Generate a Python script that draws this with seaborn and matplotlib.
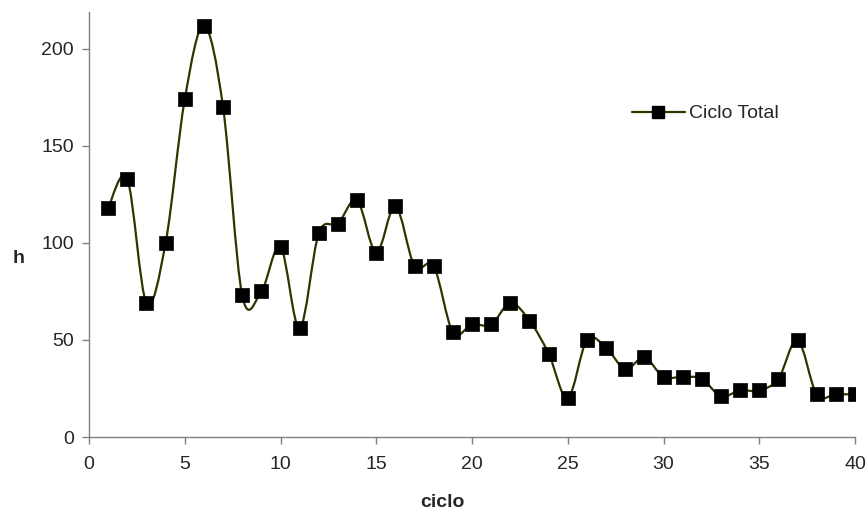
import numpy as np
import pandas as pd
import matplotlib
matplotlib.use("Agg")
import matplotlib.pyplot as plt
from matplotlib.path import Path
from matplotlib.patches import PathPatch
from matplotlib.lines import Line2D
import seaborn as sns

ciclo = list(range(1, 41))
h = [118, 133, 69, 100, 174, 212, 170, 73, 75, 98,
     56, 105, 110, 122, 95, 119, 88, 88, 54, 58,
     58, 69, 60, 43, 20, 50, 46, 35, 41, 31,
     31, 30, 21, 24, 24, 30, 50, 22, 22, 22]
series_name = "Ciclo Total"
x_ticks = [0, 5, 10, 15, 20, 25, 30, 35, 40]
y_ticks = [0, 50, 100, 150, 200]

sns.set_style("white")
plt.rcParams['font.family'] = ['Liberation Sans', 'DejaVu Sans']

df = pd.DataFrame({"ciclo": ciclo, "h": h})

fig = plt.figure(figsize=(8.68, 5.15), dpi=100)
ax = fig.add_axes([89/868, 78/515, 766/868, 425/515])

line_color = "#333300"

# smoothed curve (Catmull-Rom style Bezier, like spreadsheet smoothing)
xs = np.array(ciclo, dtype=float)
ys = np.array(h, dtype=float)
verts = [(xs[0], ys[0])]
codes = [Path.MOVETO]
n = len(xs)
for i in range(n - 1):
    p0 = (xs[i - 1], ys[i - 1]) if i > 0 else (xs[i], ys[i])
    p1 = (xs[i], ys[i])
    p2 = (xs[i + 1], ys[i + 1])
    p3 = (xs[i + 2], ys[i + 2]) if i + 2 < n else (xs[i + 1], ys[i + 1])
    c1 = (p1[0] + (p2[0] - p0[0]) / 6, p1[1] + (p2[1] - p0[1]) / 6)
    c2 = (p2[0] - (p3[0] - p1[0]) / 6, p2[1] - (p3[1] - p1[1]) / 6)
    verts += [c1, c2, p2]
    codes += [Path.CURVE4] * 3
ax.add_patch(PathPatch(Path(verts, codes), fill=False, edgecolor=line_color, lw=1.6, zorder=2))

sns.scatterplot(data=df, x="ciclo", y="h", marker="s", s=110, color="black",
                edgecolor="black", linewidth=0.5, ax=ax, zorder=3, legend=False)

ax.set_xlim(0, 40)
ax.set_ylim(0, 219)
ax.set_xticks(x_ticks)
ax.set_yticks(y_ticks)
ax.tick_params(axis="both", labelsize=14, direction="out", length=5, width=1,
               color="#808080", bottom=True, left=True)
ax.tick_params(axis="x", pad=9)
ax.tick_params(axis="y", pad=6)
for s in ["top", "right"]:
    ax.spines[s].set_visible(False)
for s in ["left", "bottom"]:
    ax.spines[s].set_color("#808080")
    ax.spines[s].set_linewidth(1)

ax.set_xlabel("ciclo", fontsize=14, fontweight="bold", va="center")
ax.set_ylabel("h", fontsize=14, fontweight="bold", rotation=0, va="center", ha="center")
ax.xaxis.set_label_coords(0.461, -0.153)
ax.yaxis.set_label_coords(-0.0914, 0.421)

handle = Line2D([0], [0], color=line_color, lw=1.6, marker="s", markersize=8,
                markerfacecolor="black", markeredgecolor="black")
ax.legend([handle], [series_name], loc="center left", bbox_to_anchor=(0.709, 0.761),
          frameon=False, fontsize=14, handlelength=2.7, handletextpad=0.25,
          borderaxespad=0, borderpad=0)

fig.savefig("out.png", dpi=100)
